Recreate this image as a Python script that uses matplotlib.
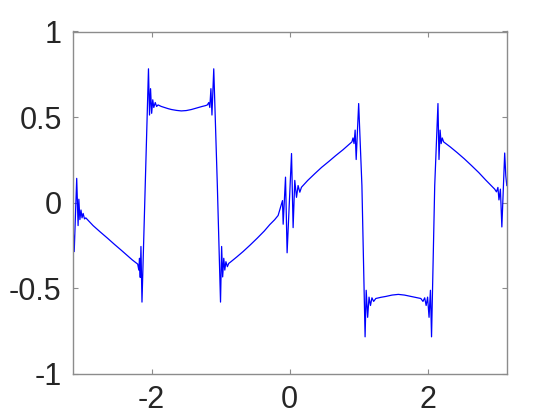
import numpy as np
import matplotlib
matplotlib.use("Agg")
import matplotlib.pyplot as plt

# Partial-sum curve (x in radians, y value)
x_vals = [
    -3.1416, -3.121, -3.085, -3.065, -3.054, -3.039, -3.023, -3.008, -2.992, -2.972, -2.953,
    -2.848, -2.745, -2.641, -2.538, -2.434, -2.350, -2.279, -2.227,
    -2.202, -2.186, -2.176, -2.165, -2.155, -2.140,
    -2.093, -2.046, -2.031, -2.016, -2.000, -1.984, -1.969, -1.948, -1.928, -1.907,
    -1.860, -1.814, -1.760, -1.711, -1.640, -1.571, -1.500, -1.426, -1.375, -1.323, -1.270, -1.220,
    -1.194, -1.173, -1.158, -1.142, -1.127, -1.101,
    -1.049, -1.003, -0.987, -0.972, -0.956, -0.941, -0.925, -0.904, -0.884, -0.858,
    -0.770, -0.677, -0.575, -0.470, -0.370, -0.289, -0.220,
    -0.169, -0.106, -0.096, -0.062, -0.039, 0.025, 0.048, 0.072, 0.097, 0.120, 0.145, 0.169,
    0.260, 0.361, 0.460, 0.563, 0.665, 0.770, 0.899,
    0.915, 0.930, 0.946, 0.961, 0.997,
    1.044, 1.090, 1.106, 1.127, 1.147, 1.168, 1.189, 1.214, 1.245,
    1.320, 1.390, 1.480, 1.571, 1.660, 1.752, 1.825, 1.897,
    1.928, 1.953, 1.974, 1.995, 2.016, 2.036, 2.052,
    2.098, 2.145, 2.160, 2.176, 2.191, 2.207, 2.227,
    2.325, 2.424, 2.527, 2.630, 2.735, 2.837, 2.966,
    2.992, 3.013, 3.028, 3.049, 3.070, 3.111, 3.127, 3.1416,
]
y_vals = [
    -0.110, -0.286, 0.142, -0.134, 0.020, -0.099, -0.043, -0.089, -0.063, -0.095, -0.089,
    -0.134, -0.171, -0.207, -0.244, -0.280, -0.310, -0.335, -0.351,
    -0.359, -0.394, -0.325, -0.437, -0.256, -0.581,
    0.099, 0.782, 0.512, 0.666, 0.522, 0.601, 0.556, 0.585, 0.562, 0.571,
    0.562, 0.556, 0.549, 0.544, 0.539, 0.536, 0.538, 0.544, 0.550, 0.556, 0.562, 0.567,
    0.571, 0.585, 0.556, 0.666, 0.512, 0.782,
    0.099, -0.581, -0.256, -0.434, -0.325, -0.394, -0.345, -0.374, -0.355, -0.347,
    -0.318, -0.286, -0.248, -0.207, -0.166, -0.128, -0.100,
    -0.075, 0.012, -0.126, 0.149, -0.293, 0.287, -0.146, 0.130, 0.031, 0.100, 0.061, 0.090,
    0.130, 0.169, 0.206, 0.240, 0.275, 0.309, 0.355,
    0.378, 0.345, 0.424, 0.252, 0.579,
    0.099, -0.784, -0.512, -0.670, -0.552, -0.601, -0.556, -0.577, -0.560,
    -0.553, -0.548, -0.540, -0.536, -0.540, -0.548, -0.554, -0.560,
    -0.577, -0.556, -0.601, -0.552, -0.670, -0.512, -0.784,
    0.099, 0.579, 0.252, 0.424, 0.345, 0.378, 0.355,
    0.325, 0.292, 0.256, 0.217, 0.176, 0.132, 0.079,
    0.063, 0.089, 0.016, 0.079, -0.142, 0.290, 0.158, 0.100,
]

x_ticks = [-2, 0, 2]
y_ticks = [-1, -0.5, 0, 0.5, 1]
y_tick_labels = ["-1", "-0.5", "0", "0.5", "1"]

plt.rcParams['font.family'] = ['Liberation Sans', 'DejaVu Sans']

fig = plt.figure(figsize=(5.6, 4.2), dpi=100)
ax = fig.add_axes([0.13, 0.11, 0.775, 0.815])
ax.plot(x_vals, y_vals, color=(0, 0, 1), linewidth=0.9)

ax.set_xlim(-np.pi, np.pi)
ax.set_ylim(-1, 1)
ax.set_xticks(x_ticks)
ax.set_xticklabels([str(t) for t in x_ticks])
ax.set_yticks(y_ticks)
ax.set_yticklabels(y_tick_labels)

axis_col = '#8c8c8c'
for s in ax.spines.values():
    s.set_color(axis_col)
    s.set_linewidth(1.0)
ax.tick_params(direction='in', length=3.5, width=0.8, color=axis_col,
               labelcolor='#262626', labelsize=22, top=True, right=True)
ax.tick_params(axis='x', pad=8)
ax.tick_params(axis='y', pad=8)

fig.savefig('out.png', dpi=100)
